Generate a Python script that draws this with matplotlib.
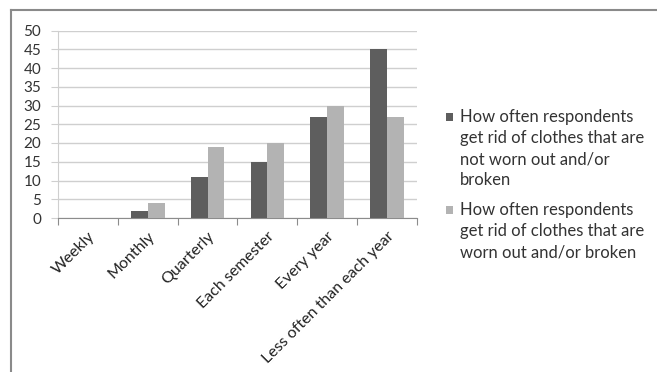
import matplotlib
matplotlib.use("Agg")
import matplotlib.pyplot as plt
from matplotlib.lines import Line2D
from matplotlib.patches import Rectangle
import numpy as np

categories = ["Weekly", "Monthly", "Quarterly", "Each semester", "Every year",
              "Less often than each year"]
not_worn_out = [0, 2, 11, 15, 27, 45]
worn_out = [0, 4, 19, 20, 30, 27]
series_labels = [
    "How often respondents\nget rid of clothes that are\nnot worn out and/or\nbroken",
    "How often respondents\nget rid of clothes that are\nworn out and/or broken",
]
y_ticks = [0, 5, 10, 15, 20, 25, 30, 35, 40, 45, 50]

dark = "#5e5e5e"
light = "#b3b3b3"
grid_c = "#cfcfcf"
axis_c = "#8c8c8c"
text_c = "#333333"
font = ["Lato", "DejaVu Sans"]

W, H = 657, 372
fig = plt.figure(figsize=(W / 100, H / 100), dpi=100)
ax = fig.add_axes([58 / W, 1 - 218 / H, (417 - 58) / W, (218 - 30.5) / H])

x = np.arange(len(categories))
bw = 0.28
ax.bar(x - bw / 2, not_worn_out, width=bw, color=dark, zorder=3, linewidth=0)
ax.bar(x + bw / 2, worn_out, width=bw, color=light, zorder=3, linewidth=0)

ax.set_xlim(-0.5, len(categories) - 0.5)
ax.set_ylim(0, 50)
ax.set_yticks(y_ticks)
ax.set_yticklabels([str(v) for v in y_ticks], family=font, fontsize=11, color=text_c)
ax.yaxis.grid(True, color=grid_c, linewidth=1.0, zorder=0)
ax.tick_params(axis="y", length=5, color=grid_c, pad=7)

# category boundary ticks on the x axis, labels centred on each category
ax.set_xticks(np.arange(len(categories) + 1) - 0.5)
ax.set_xticklabels([])
ax.set_xticks(x, minor=True)
ax.set_xticklabels(categories, minor=True, rotation=45, ha="right", va="top",
                   rotation_mode="anchor", family=font, fontsize=11.5, color="#222222")
ax.tick_params(axis="x", which="major", length=5, color=axis_c, direction="out")
ax.tick_params(axis="x", which="minor", length=0, pad=8)

for s in ["top", "right"]:
    ax.spines[s].set_visible(False)
ax.spines["left"].set_color(grid_c)
ax.spines["bottom"].set_color(axis_c)

# legend: swatch beside the first line of each wrapped label
line_h = 21
entry_tops = [117, 210]
for label, color, top in zip(series_labels, [dark, light], entry_tops):
    fig.add_artist(Rectangle((446 / W, 1 - (top + 4) / H), 7 / W, 8 / H,
                             transform=fig.transFigure, facecolor=color, edgecolor="none"))
    for i, line in enumerate(label.split("\n")):
        fig.text(460 / W, 1 - (top + i * line_h) / H, line, ha="left", va="center",
                 family=font, fontsize=12, color=text_c)

# outer chart frame (top and left edges)
fig.add_artist(Line2D([11 / W, 1.0], [1 - 10 / H, 1 - 10 / H], color="#8a8a8a", linewidth=1.5))
fig.add_artist(Line2D([11 / W, 11 / W], [1 - 10 / H, 0.0], color="#8a8a8a", linewidth=1.5))

fig.savefig("out.png", dpi=100)
